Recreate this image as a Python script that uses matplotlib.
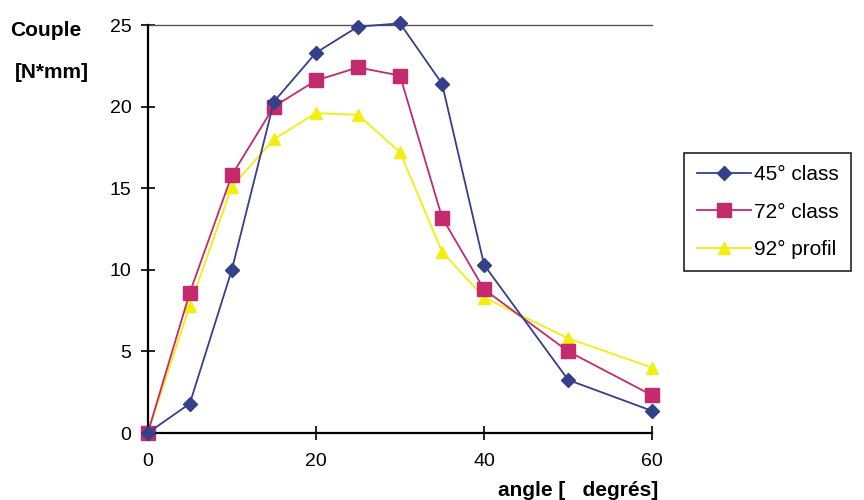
import matplotlib.pyplot as plt

plt.rcParams['font.family'] = ['Liberation Sans', 'DejaVu Sans']

angles = [0, 5, 10, 15, 20, 25, 30, 35, 40, 50, 60]
couple_45 = [0, 1.8, 10.0, 20.3, 23.3, 24.9, 25.1, 21.4, 10.3, 3.25, 1.35]
couple_72 = [0, 8.6, 15.8, 20.0, 21.6, 22.4, 21.9, 13.2, 8.8, 5.0, 2.3]
couple_92 = [0, 7.8, 15.1, 18.0, 19.6, 19.5, 17.2, 11.1, 8.3, 5.8, 4.0]
labels = ['45° class', '72° class', '92° profil']

fig = plt.figure(figsize=(8.64, 5), dpi=100)
ax = fig.add_axes([0.171, 0.134, 0.584, 0.816])

ax.plot(angles, couple_45, color='#34408a', marker='D', markersize=7.5, lw=1.3,
        label=labels[0], zorder=3, clip_on=False)
ax.plot(angles, couple_72, color='#c42a6e', marker='s', markersize=10, lw=1.3,
        label=labels[1], zorder=2, clip_on=False)
ax.plot(angles, couple_92, color='#f2ee10', marker='^', markersize=9, lw=1.3,
        label=labels[2], zorder=1, clip_on=False)

ax.set_xlim(0, 60)
ax.set_ylim(0, 25)
ax.set_xticks([0, 20, 40, 60])
ax.set_yticks([0, 5, 10, 15, 20, 25])
ax.tick_params(direction='inout', length=9.5, width=1.2, labelsize=14, colors='black')
ax.tick_params(axis='x', pad=10)
ax.tick_params(axis='y', pad=7)

# plot area top border only
ax.axhline(25, color='#555555', lw=1, clip_on=False)
for s in ['top', 'right']:
    ax.spines[s].set_visible(False)
for s in ['left', 'bottom']:
    ax.spines[s].set_linewidth(1.6)

fig.text(0.012, 0.94, 'Couple', fontsize=15, fontweight='bold', va='center')
fig.text(0.017, 0.856, '[N*mm]', fontsize=15, fontweight='bold', va='center')
fig.text(0.762, 0.02, 'angle [   degrés]', fontsize=15, fontweight='bold', ha='right', va='center')

leg = ax.legend(loc='upper left', bbox_to_anchor=(0.7917, 0.694), bbox_transform=fig.transFigure,
                fontsize=15, frameon=True, fancybox=False, edgecolor='black',
                handlelength=2.6, handletextpad=0.15, labelspacing=0.87, borderpad=0.6,
                borderaxespad=0)
leg.get_frame().set_linewidth(1.3)

fig.savefig('out.png', dpi=100)
